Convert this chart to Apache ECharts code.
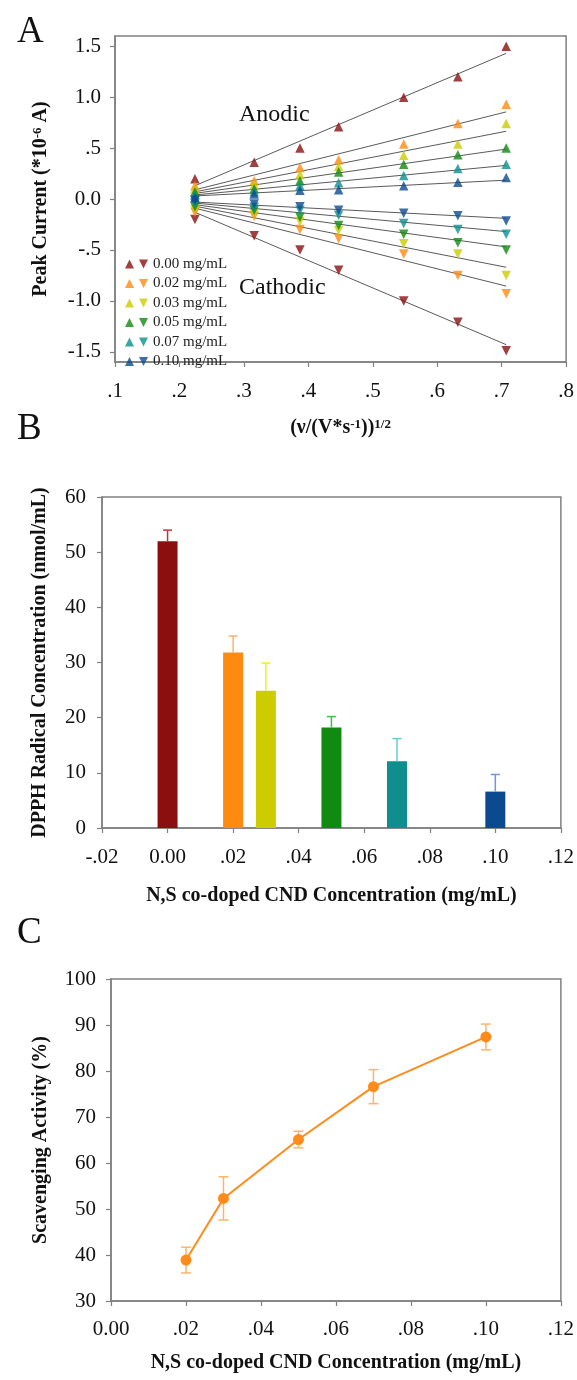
<!DOCTYPE html>
<html>
<head>
<meta charset="utf-8">
<script src="https://cdn.jsdelivr.net/npm/echarts@6/dist/echarts.min.js"></script>
<style>
  html, body { margin: 0; padding: 0; background: #fff; }
  #chart { width: 577px; height: 1380px; }
</style>
</head>
<body>
<div id="chart"></div>
<script>
// ---- panel A: peak current vs sqrt(scan rate) ----
const scanRoots = [0.224, 0.316, 0.387, 0.447, 0.548, 0.632, 0.707];
const concNames = ['0.00 mg/mL', '0.02 mg/mL', '0.03 mg/mL', '0.05 mg/mL', '0.07 mg/mL', '0.10 mg/mL'];

const anodic000 = [0.20, 0.36, 0.50, 0.71, 1.00, 1.20, 1.50];
const anodic002 = [0.13, 0.18, 0.31, 0.385, 0.54, 0.74, 0.93];
const anodic003 = [0.10, 0.14, 0.24, 0.32, 0.43, 0.54, 0.74];
const anodic005 = [0.07, 0.10, 0.18, 0.265, 0.34, 0.435, 0.50];
const anodic007 = [0.045, 0.07, 0.13, 0.16, 0.23, 0.30, 0.34];
const anodic010 = [0.015, 0.05, 0.085, 0.09, 0.13, 0.165, 0.21];

const cathodic000 = [-0.20, -0.36, -0.50, -0.70, -1.00, -1.21, -1.49];
const cathodic002 = [-0.13, -0.17, -0.30, -0.39, -0.54, -0.75, -0.93];
const cathodic003 = [-0.10, -0.145, -0.22, -0.31, -0.44, -0.54, -0.75];
const cathodic005 = [-0.075, -0.11, -0.18, -0.26, -0.345, -0.43, -0.50];
const cathodic007 = [-0.045, -0.08, -0.11, -0.16, -0.24, -0.30, -0.345];
const cathodic010 = [-0.015, -0.05, -0.075, -0.11, -0.14, -0.165, -0.215];

// linear fit lines, read at both ends
const fitX = [0.224, 0.707];
const anodicFitStart = [0.13, 0.09, 0.07, 0.055, 0.04, 0.03];
const anodicFitEnd = [1.43, 0.855, 0.665, 0.49, 0.33, 0.185];
const cathodicFitStart = [-0.13, -0.09, -0.07, -0.055, -0.04, -0.03];
const cathodicFitEnd = [-1.43, -0.855, -0.67, -0.47, -0.32, -0.19];

const yTicksA = [-1.5, -1.0, -0.5, 0, 0.5, 1.0, 1.5];

// ---- panel B: DPPH radical concentration ----
const concB = [0.00, 0.02, 0.03, 0.05, 0.07, 0.10];
const dpph = [52.0, 31.8, 24.9, 18.2, 12.1, 6.6];
const dpphErr = [2.0, 3.0, 5.0, 2.0, 4.1, 3.1];

// ---- panel C: scavenging activity ----
const concC = [0.02, 0.03, 0.05, 0.07, 0.10];
const scav = [38.9, 52.3, 65.1, 76.6, 87.4];
const scavErr = [2.8, 4.7, 1.8, 3.7, 2.8];

const anodicSets = [anodic000, anodic002, anodic003, anodic005, anodic007, anodic010];
const cathodicSets = [cathodic000, cathodic002, cathodic003, cathodic005, cathodic007, cathodic010];
const concColors = ['#8b0f0f', '#ff8a10', '#cccc00', '#108a10', '#0e8e8e', '#0c4a90'];
const errColors = ['#cc3030', '#ffb070', '#f0f020', '#40c040', '#60d0d0', '#6699dd'];

const FONT = 'Liberation Serif';
const AXIS_COLOR = '#808080';

function fmtDot(v, digits) {
  if (Math.abs(v) < 1e-9) return (0).toFixed(digits);
  const s = Math.abs(v).toFixed(digits);
  const t = Math.abs(v) < 1 ? s.replace(/^0/, '') : s;
  return (v < 0 ? '-' : '') + t;
}

function baseAxis(extra) {
  return Object.assign({
    type: 'value',
    splitLine: { show: false },
    axisLine: { show: true, onZero: false, lineStyle: { color: AXIS_COLOR, width: 1.5 } },
    axisTick: { show: true, inside: false, length: 5, lineStyle: { color: AXIS_COLOR, width: 1.2 } },
    axisLabel: { color: '#111', fontFamily: FONT, fontSize: 21 },
    nameLocation: 'middle',
    nameTextStyle: { color: '#111', fontFamily: FONT, fontSize: 20, fontWeight: 'bold' }
  }, extra);
}

function buildSeriesA() {
  const series = [];
  for (let i = 0; i < concNames.length; i++) {
    series.push({
      type: 'line', xAxisIndex: 0, yAxisIndex: 0, silent: true, symbol: 'none', z: 2,
      lineStyle: { color: '#5a5a5a', width: 1 },
      data: [[fitX[0], anodicFitStart[i]], [fitX[1], anodicFitEnd[i]]]
    });
    series.push({
      type: 'line', xAxisIndex: 0, yAxisIndex: 0, silent: true, symbol: 'none', z: 2,
      lineStyle: { color: '#5a5a5a', width: 1 },
      data: [[fitX[0], cathodicFitStart[i]], [fitX[1], cathodicFitEnd[i]]]
    });
  }
  for (let i = 0; i < concNames.length; i++) {
    series.push({
      name: 'up ' + concNames[i],
      type: 'scatter', xAxisIndex: 0, yAxisIndex: 0, z: 3,
      symbol: 'triangle', symbolSize: 9.5,
      itemStyle: { color: concColors[i] },
      data: scanRoots.map((x, k) => [x, anodicSets[i][k]])
    });
    series.push({
      name: concNames[i],
      type: 'scatter', xAxisIndex: 0, yAxisIndex: 0, z: 3,
      symbol: 'triangle', symbolRotate: 180, symbolSize: 9.5,
      itemStyle: { color: concColors[i] },
      data: scanRoots.map((x, k) => [x, cathodicSets[i][k]])
    });
  }
  return series;
}

function errorBarSeries(xIdx, yIdx, rows, colorFn, capHalf, upOnly) {
  return {
    type: 'custom', xAxisIndex: xIdx, yAxisIndex: yIdx, z: 4, silent: true,
    data: rows,
    renderItem: function (params, api) {
      const x = api.value(0), y = api.value(1), e = api.value(2);
      const hi = api.coord([x, y + e]);
      const lo = api.coord([x, upOnly ? y : y - e]);
      const style = { stroke: colorFn(params.dataIndex), lineWidth: 1.5 };
      const kids = [
        { type: 'line', shape: { x1: hi[0], y1: hi[1], x2: lo[0], y2: lo[1] }, style: style },
        { type: 'line', shape: { x1: hi[0] - capHalf, y1: hi[1], x2: hi[0] + capHalf, y2: hi[1] }, style: style }
      ];
      if (!upOnly) {
        kids.push({ type: 'line', shape: { x1: lo[0] - capHalf, y1: lo[1], x2: lo[0] + capHalf, y2: lo[1] }, style: style });
      }
      return { type: 'group', children: kids };
    }
  };
}

function getOption() {
  const legendText = { color: '#222', fontFamily: FONT, fontSize: 15, lineHeight: 16 };
  return {
    animation: false,
    backgroundColor: '#fff',
    title: [
      { text: 'A', left: 12, top: 9, textStyle: { fontFamily: FONT, fontSize: 37, fontWeight: 'normal', color: '#111' } },
      { text: 'B', left: 12, top: 406, textStyle: { fontFamily: FONT, fontSize: 37, fontWeight: 'normal', color: '#111' } },
      { text: 'C', left: 12, top: 910, textStyle: { fontFamily: FONT, fontSize: 37, fontWeight: 'normal', color: '#111' } }
    ],
    grid: [
      { left: 115, top: 36, width: 455, height: 326, show: true, borderColor: AXIS_COLOR, borderWidth: 1.5 },
      { left: 102, top: 497, width: 463, height: 331, show: true, borderColor: AXIS_COLOR, borderWidth: 1.5 },
      { left: 111, top: 979, width: 450, height: 322, show: true, borderColor: AXIS_COLOR, borderWidth: 1.5 }
    ],
    legend: [
      {
        orient: 'vertical', left: 120, top: 251, itemWidth: 9, itemHeight: 9, itemGap: 3.5,
        icon: 'triangle', selectedMode: false,
        data: concNames.map(n => 'up ' + n),
        formatter: () => ' ',
        textStyle: legendText
      },
      {
        orient: 'vertical', left: 134, top: 251, itemWidth: 9, itemHeight: 9, itemGap: 3.5,
        icon: 'path://M0,0L10,0L5,10Z', selectedMode: false, textStyle: legendText,
        data: concNames
      }
    ],
    graphic: [
      { type: 'text', left: 239, top: 103, style: { text: 'Anodic', fontFamily: FONT, fontSize: 24, fill: '#111' } },
      { type: 'text', left: 239, top: 276, style: { text: 'Cathodic', fontFamily: FONT, fontSize: 24, fill: '#111' } }
    ],
    xAxis: [
      baseAxis({
        gridIndex: 0, min: 0.1, max: 0.8, interval: 0.1,
        name: '(ν/(V*s{sup|-1})){sup|1/2}', nameGap: 56,
        nameTextStyle: { color: '#111', fontFamily: FONT, fontSize: 20, fontWeight: 'bold',
          rich: { sup: { fontFamily: FONT, fontSize: 13, fontWeight: 'bold', verticalAlign: 'top', color: '#111' } } },
        axisLabel: { color: '#111', fontFamily: FONT, fontSize: 21, margin: 19, formatter: v => fmtDot(v, 1) }
      }),
      baseAxis({
        gridIndex: 1, min: -0.02, max: 0.12, interval: 0.02,
        name: 'N,S co-doped CND Concentration (mg/mL)', nameGap: 58,
        axisLabel: { color: '#111', fontFamily: FONT, fontSize: 21, margin: 19, formatter: v => fmtDot(v, 2) }
      }),
      baseAxis({
        gridIndex: 2, min: 0, max: 0.12, interval: 0.02,
        name: 'N,S co-doped CND Concentration (mg/mL)', nameGap: 52,
        axisLabel: { color: '#111', fontFamily: FONT, fontSize: 21, margin: 18, formatter: v => fmtDot(v, 2) }
      })
    ],
    yAxis: [
      baseAxis({
        gridIndex: 0, min: -1.6, max: 1.6,
        name: 'Peak Current (*10{sup|-6} A)', nameGap: 64,
        nameTextStyle: { color: '#111', fontFamily: FONT, fontSize: 20, fontWeight: 'bold',
          rich: { sup: { fontFamily: FONT, fontSize: 13, fontWeight: 'bold', verticalAlign: 'top', color: '#111' } } },
        axisTick: { show: true, length: 5, customValues: yTicksA, lineStyle: { color: AXIS_COLOR, width: 1.2 } },
        axisLabel: { color: '#111', fontFamily: FONT, fontSize: 21, margin: 14, customValues: yTicksA, formatter: v => fmtDot(v, 1) }
      }),
      baseAxis({
        gridIndex: 1, min: 0, max: 60, interval: 10,
        name: 'DPPH Radical Concentration (nmol/mL)', nameGap: 52,
        axisLabel: { color: '#111', fontFamily: FONT, fontSize: 21, margin: 16 }
      }),
      baseAxis({
        gridIndex: 2, min: 30, max: 100, interval: 10,
        name: 'Scavenging Activity (%)', nameGap: 60,
        axisLabel: { color: '#111', fontFamily: FONT, fontSize: 21, margin: 15 }
      })
    ],
    series: buildSeriesA().concat([
      {
        type: 'bar', xAxisIndex: 1, yAxisIndex: 1, barWidth: 20, z: 3,
        itemStyle: { color: p => concColors[p.dataIndex] },
        data: concB.map((x, i) => [x, dpph[i]])
      },
      errorBarSeries(1, 1, concB.map((x, i) => [x, dpph[i], dpphErr[i]]), i => errColors[i], 4.5, true),
      errorBarSeries(2, 2, concC.map((x, i) => [x, scav[i], scavErr[i]]), () => '#ffb468', 5, false),
      {
        type: 'line', xAxisIndex: 2, yAxisIndex: 2, z: 5,
        symbol: 'circle', symbolSize: 11,
        itemStyle: { color: '#ff8c1a' },
        lineStyle: { color: '#ff8c1a', width: 2 },
        data: concC.map((x, i) => [x, scav[i]])
      }
    ])
  };
}

const chart = echarts.init(document.getElementById('chart'), null, { renderer: 'canvas' });
chart.setOption(getOption());
</script>
</body>
</html>
